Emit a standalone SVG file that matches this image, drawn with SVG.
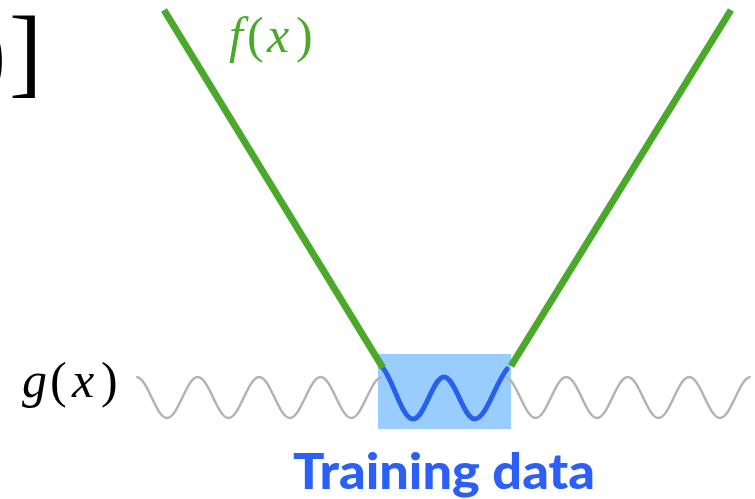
<svg xmlns="http://www.w3.org/2000/svg" width="755" height="499" viewBox="0 0 755 499">
<style>
.math{font-family:"Liberation Serif","DejaVu Serif",serif;}
.it{font-style:italic;}
.gray{fill:none;stroke:#b3b3b3;stroke-width:2.5;}
.green{fill:none;stroke:#4aa82a;stroke-width:7;stroke-linecap:butt;}
.blue{fill:none;stroke:#2860ee;stroke-width:5;stroke-linecap:round;stroke-linejoin:round;}
</style>
<rect width="755" height="499" fill="#ffffff"/>
<g id="bracket-text">
<text class="math" font-size="100" fill="#000" y="85"><tspan x="-27">)</tspan><tspan x="9">]</tspan></text>
</g>
<g id="training-region">
<rect x="378" y="354" width="133" height="75" fill="#98cdfd"/>
</g>
<g id="connectors">
<path id="g-left" class="gray" d="M136.3,377 c11.19,0 19.530,41 30.72,41 s19.53,-41 30.72,-41 s19.53,41 30.72,41 s19.53,-41 30.72,-41 s19.53,41 30.72,41 s19.53,-41 30.72,-41 s19.53,41 30.72,41 s19.53,-41 30.72,-41"/>
<path id="g-right" class="gray" d="M504.9,377 c11.19,0 19.53,41 30.72,41 s19.53,-41 30.72,-41 s19.53,41 30.72,41 s19.53,-41 30.72,-41 s19.53,41 30.72,41 s19.53,-41 30.72,-41 s19.53,41 30.72,41 s19.53,-41 30.72,-41"/>
<path id="g-train" class="blue" d="M383,368 C394,382 402,419 413.3,419 C424.5,419 432.8,377 444,377 C455.2,377 463.5,419 474.7,419 C486,419 495,384 507,369"/>
<line id="f-left" class="green" x1="164" y1="10" x2="383" y2="368"/>
<line id="f-right" class="green" x1="731" y1="10" x2="511" y2="366"/>
</g>
<g id="label-f" fill="#4aa82a" class="math" font-size="50">
<text y="52"><tspan class="it" x="229">f</tspan><tspan x="247">(</tspan><tspan class="it" x="267">x</tspan><tspan x="296">)</tspan></text>
</g>
<g id="label-g" fill="#000" class="math" font-size="50">
<text y="397"><tspan class="it" x="22">g</tspan><tspan x="50">(</tspan><tspan class="it" x="72">x</tspan><tspan x="101">)</tspan></text>
</g>
<g id="label-training">
<text x="293" y="489" font-family="Lato,'Open Sans',sans-serif" font-weight="900" font-size="50" fill="#2b5ff5" textLength="302" lengthAdjust="spacingAndGlyphs">Training data</text>
</g>
</svg>
